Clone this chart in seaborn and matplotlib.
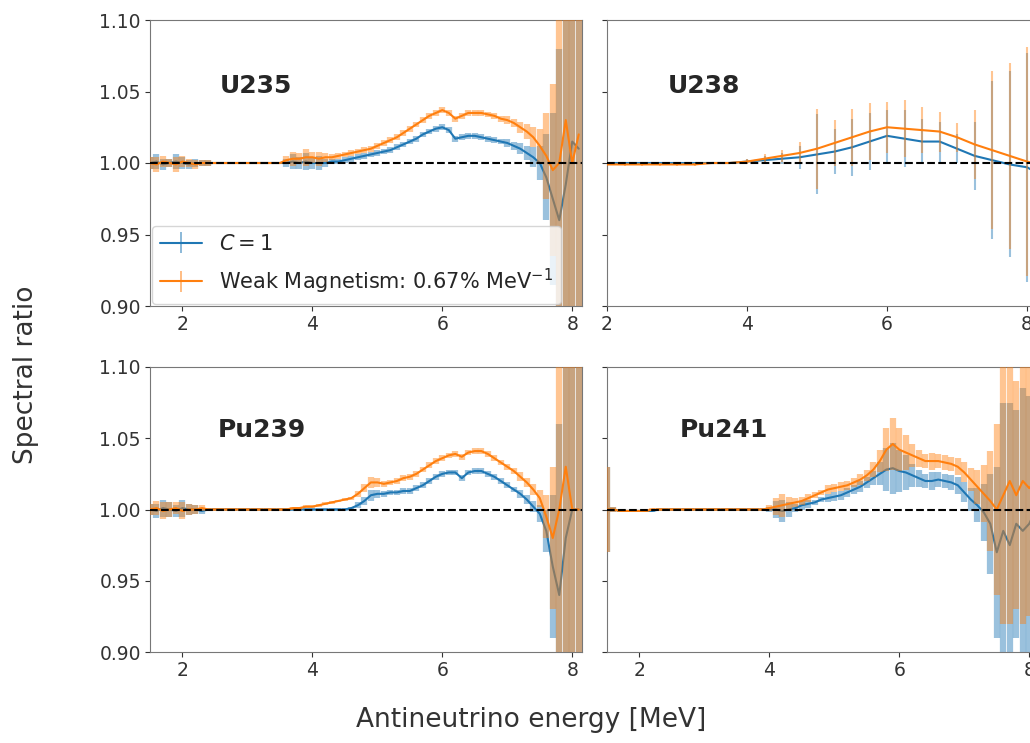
import numpy as np
import matplotlib
matplotlib.use("Agg")
import matplotlib.pyplot as plt
from matplotlib.container import ErrorbarContainer
from matplotlib.collections import LineCollection
import seaborn as sns

# energy bins (MeV)
energy = np.round(np.arange(1.5, 8.15, 0.1), 2)
energy_u238 = np.round(np.arange(2.0, 8.3, 0.25), 2)

# U235
u235_c1 = [1.000, 1.001, 0.999, 1.000, 1.001, 1.000, 0.999, 1.000, 1.000, 1.000, 1.000,
           1.000, 1.000, 1.000, 1.000, 1.000, 1.000, 1.000, 1.000, 1.000, 1.000,
           1.000, 1.001, 1.000, 1.001, 1.000, 1.000, 1.000, 1.001, 1.001,
           1.002, 1.003, 1.004, 1.005, 1.006, 1.007, 1.008, 1.009, 1.011, 1.013,
           1.015, 1.017, 1.020, 1.022, 1.024, 1.025, 1.023, 1.017, 1.018, 1.019,
           1.019, 1.018, 1.017, 1.016, 1.015, 1.014, 1.012, 1.010, 1.007, 1.004,
           1.000, 0.990, 0.975, 0.960, 0.985, 1.015, 1.010]
u235_wm = [1.000, 0.999, 1.001, 1.000, 0.999, 1.001, 1.000, 0.999, 1.000, 1.000, 1.000,
           1.000, 1.000, 1.000, 1.000, 1.000, 1.000, 1.000, 1.000, 1.000, 1.000,
           1.002, 1.003, 1.003, 1.004, 1.004, 1.003, 1.004, 1.004, 1.005,
           1.006, 1.007, 1.008, 1.009, 1.010, 1.012, 1.014, 1.016, 1.018, 1.021,
           1.024, 1.027, 1.030, 1.033, 1.035, 1.037, 1.035, 1.031, 1.033, 1.035,
           1.035, 1.035, 1.034, 1.033, 1.031, 1.030, 1.028, 1.025, 1.022, 1.018,
           1.012, 1.005, 0.995, 1.000, 1.030, 1.000, 1.020]
u235_err = [0.004, 0.005, 0.004, 0.003, 0.005, 0.004, 0.003, 0.003, 0.002, 0.002, 0.001,
            0.001, 0.001, 0.001, 0.001, 0.001, 0.001, 0.001, 0.001, 0.001, 0.001,
            0.003, 0.005, 0.004, 0.006, 0.004, 0.005, 0.003, 0.002, 0.002,
            0.002, 0.002, 0.002, 0.002, 0.002, 0.002, 0.002, 0.002, 0.002, 0.002,
            0.002, 0.002, 0.002, 0.002, 0.002, 0.002, 0.002, 0.002, 0.002, 0.002,
            0.002, 0.002, 0.002, 0.002, 0.002, 0.003, 0.003, 0.004, 0.005, 0.007,
            0.012, 0.030, 0.060, 0.120, 0.150, 0.200, 0.150]

# U238 (coarser bins)
u238_c1 = [1.000, 1.000, 1.000, 1.000, 1.000, 1.000, 1.000, 1.000, 1.001, 1.002,
           1.003, 1.004, 1.006, 1.008, 1.011, 1.015, 1.019, 1.017, 1.015, 1.015,
           1.010, 1.005, 1.002, 0.999, 0.997, 0.990]
u238_wm = [0.999, 0.999, 0.999, 0.999, 0.999, 0.999, 1.000, 1.000, 1.001, 1.003,
           1.005, 1.007, 1.010, 1.014, 1.018, 1.022, 1.025, 1.024, 1.023, 1.022,
           1.018, 1.013, 1.009, 1.005, 1.001, 0.998]
u238_err = [0.001, 0.001, 0.001, 0.001, 0.001, 0.001, 0.001, 0.001, 0.002, 0.003,
            0.004, 0.008, 0.028, 0.016, 0.020, 0.020, 0.018, 0.020, 0.016, 0.014,
            0.010, 0.024, 0.055, 0.065, 0.080, 0.100]

# Pu239
pu239_c1 = [1.000, 0.999, 1.001, 1.000, 0.999, 1.001, 1.000, 1.000, 0.999, 1.000, 1.000,
            1.000, 1.000, 1.000, 1.000, 1.000, 1.000, 1.000, 1.000, 1.000, 1.000,
            1.000, 1.000, 1.000, 1.000, 1.000, 1.000, 1.000, 1.000, 1.000,
            1.000, 1.001, 1.003, 1.006, 1.010, 1.011, 1.011, 1.012, 1.012, 1.013,
            1.013, 1.015, 1.017, 1.020, 1.023, 1.025, 1.026, 1.026, 1.022, 1.026,
            1.027, 1.027, 1.025, 1.023, 1.020, 1.017, 1.014, 1.011, 1.007, 1.002,
            0.997, 0.985, 0.960, 0.940, 0.980, 1.000, 1.000]
pu239_wm = [1.000, 1.001, 0.999, 1.000, 1.001, 0.999, 1.000, 1.000, 1.001, 1.000, 1.000,
            1.000, 1.000, 1.000, 1.000, 1.000, 1.000, 1.000, 1.000, 1.000, 1.000,
            1.000, 1.001, 1.001, 1.002, 1.002, 1.003, 1.004, 1.005, 1.006,
            1.007, 1.008, 1.011, 1.015, 1.019, 1.019, 1.018, 1.019, 1.020, 1.022,
            1.023, 1.025, 1.028, 1.031, 1.034, 1.036, 1.038, 1.039, 1.037, 1.040,
            1.041, 1.041, 1.039, 1.036, 1.033, 1.030, 1.027, 1.023, 1.019, 1.014,
            1.008, 0.995, 0.980, 1.000, 1.030, 1.000, 1.000]
pu239_err = [0.004, 0.005, 0.006, 0.005, 0.004, 0.006, 0.004, 0.003, 0.002, 0.001, 0.001,
             0.001, 0.001, 0.001, 0.001, 0.001, 0.001, 0.001, 0.001, 0.001, 0.001,
             0.001, 0.001, 0.001, 0.001, 0.001, 0.001, 0.001, 0.001, 0.001,
             0.001, 0.001, 0.002, 0.003, 0.004, 0.003, 0.002, 0.002, 0.002, 0.002,
             0.002, 0.002, 0.002, 0.002, 0.002, 0.002, 0.002, 0.002, 0.002, 0.002,
             0.002, 0.002, 0.002, 0.002, 0.002, 0.002, 0.002, 0.003, 0.003, 0.004,
             0.006, 0.015, 0.050, 0.120, 0.150, 0.150, 0.150]

# Pu241
pu241_c1 = [1.000, 1.000, 0.999, 0.999, 0.999, 0.999, 0.999, 0.999, 1.000, 1.000, 1.000,
            1.000, 1.000, 1.000, 1.000, 1.000, 1.000, 1.000, 1.000, 1.000, 1.000,
            1.000, 1.000, 1.000, 1.000, 1.000, 1.000, 0.999, 1.000, 1.001,
            1.003, 1.004, 1.005, 1.007, 1.008, 1.009, 1.010, 1.012, 1.014, 1.016,
            1.019, 1.022, 1.025, 1.028, 1.029, 1.027, 1.026, 1.024, 1.022, 1.020,
            1.020, 1.021, 1.020, 1.019, 1.017, 1.012, 1.007, 1.003, 0.998, 0.990,
            0.970, 0.985, 0.975, 0.990, 0.985, 0.990, 1.000]
pu241_wm = [1.000, 1.000, 0.999, 0.999, 0.999, 0.999, 0.999, 1.000, 1.000, 1.000, 1.000,
            1.000, 1.000, 1.000, 1.000, 1.000, 1.000, 1.000, 1.000, 1.000, 1.000,
            1.000, 1.000, 1.000, 1.000, 1.001, 1.002, 1.003, 1.004, 1.005,
            1.006, 1.008, 1.010, 1.012, 1.014, 1.015, 1.016, 1.017, 1.019, 1.021,
            1.024, 1.028, 1.034, 1.042, 1.046, 1.042, 1.040, 1.038, 1.036, 1.034,
            1.034, 1.034, 1.033, 1.032, 1.030, 1.026, 1.021, 1.016, 1.011, 1.006,
            1.000, 1.010, 1.020, 1.010, 1.020, 1.015, 1.020]
pu241_err = [0.030, 0.002, 0.001, 0.001, 0.001, 0.001, 0.001, 0.001, 0.001, 0.001, 0.001,
             0.001, 0.001, 0.001, 0.001, 0.001, 0.001, 0.001, 0.001, 0.001, 0.001,
             0.001, 0.001, 0.001, 0.001, 0.002, 0.006, 0.008, 0.005, 0.003,
             0.003, 0.003, 0.002, 0.002, 0.003, 0.003, 0.003, 0.003, 0.003, 0.004,
             0.004, 0.005, 0.008, 0.015, 0.018, 0.015, 0.012, 0.008, 0.006, 0.005,
             0.006, 0.005, 0.005, 0.005, 0.006, 0.007, 0.008, 0.012, 0.020, 0.035,
             0.060, 0.090, 0.100, 0.080, 0.100, 0.090, 0.100]

panels = [
    ("U235", energy, u235_c1, u235_wm, u235_err),
    ("U238", energy_u238, u238_c1, u238_wm, u238_err),
    ("Pu239", energy, pu239_c1, pu239_wm, pu239_err),
    ("Pu241", energy, pu241_c1, pu241_wm, pu241_err),
]
labels = ["$C = 1$", "Weak Magnetism: 0.67% MeV$^{-1}$"]

sns.set_style("ticks")
plt.rcParams["font.family"] = ["DejaVu Sans"]
colors = sns.color_palette("tab10")[:2]

W, H = 1030, 743
fig = plt.figure(figsize=(W / 100, H / 100), dpi=100)

# axes boxes in pixels: (left, top, right, bottom)
boxes = [(150, 20, 582, 306), (607, 20, 1039, 306),
         (150, 367, 582, 652), (607, 367, 1039, 652)]
xlims = [(1.5, 8.15), (2.0, 8.17), (1.5, 8.15), (1.5, 8.15)]
elws = [4.5, 1.5, 4.5, 4.5]
name_pos = [(0.162, 0.77), (0.141, 0.77), (0.157, 0.78), (0.169, 0.78)]

handles = []
for k, (name, e, c1, wm, err) in enumerate(panels):
    l, t, r, b = boxes[k]
    ax = fig.add_axes([l / W, 1 - b / H, (r - l) / W, (b - t) / H])
    for j, vals in enumerate([c1, wm]):
        ax.errorbar(e, vals, yerr=err, fmt="none", ecolor=colors[j],
                    elinewidth=elws[k], alpha=0.45, zorder=2 + j)
        sns.lineplot(x=e, y=vals, ax=ax, color=colors[j], lw=1.5,
                     errorbar=None, zorder=2.5 + j)
        if k == 0:
            bar = LineCollection([], colors=[colors[j]], linewidths=1.2, alpha=0.6)
            handles.append(ErrorbarContainer((ax.lines[-1], (), (bar,)),
                                             has_yerr=True, label=labels[j]))
    ax.axhline(1.0, color="black", ls="--", lw=1.5, zorder=6)
    ax.set_xlim(*xlims[k])
    ax.set_ylim(0.9, 1.1)
    ax.set_yticks([0.90, 0.95, 1.00, 1.05, 1.10])
    ax.set_xticks([2, 4, 6, 8])
    ax.tick_params(labelsize=13.5, colors="#333333", length=3.5, pad=3)
    for s in ax.spines.values():
        s.set_color("#777777")
    if k % 2 == 1:
        ax.set_yticklabels([])
    else:
        ax.set_yticklabels(["0.90", "0.95", "1.00", "1.05", "1.10"])
    ax.text(name_pos[k][0], name_pos[k][1], name, transform=ax.transAxes,
            fontsize=18, fontweight="bold", ha="left", va="center")
    if k == 0:
        ax.legend(handles=handles, loc="lower left", fontsize=15,
                  borderaxespad=0.1, frameon=True, labelspacing=0.6)

fig.text(0.025, 0.495, "Spectral ratio", rotation=90, ha="center", va="center",
         fontsize=19, color="#333333")
fig.text(0.516, 0.031, "Antineutrino energy [MeV]", ha="center", va="center",
         fontsize=19, color="#333333")

fig.savefig("out.png", dpi=100)
